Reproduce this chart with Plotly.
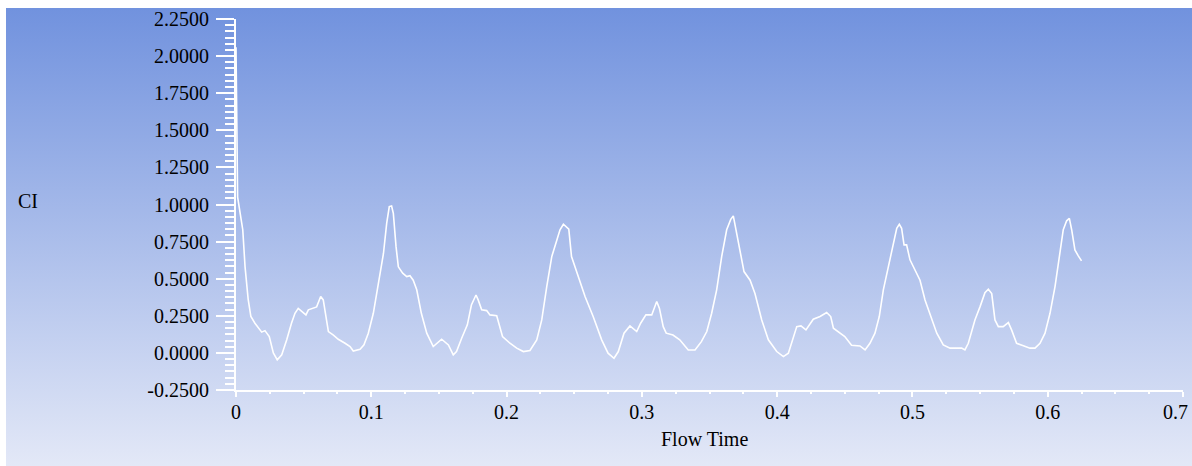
import base64
import plotly.graph_objects as go

# ---- data ----
flow_time = [
    0.0, 0.0012, 0.005, 0.0067, 0.009, 0.011, 0.014, 0.019, 0.0214, 0.0246,
    0.0276, 0.0305, 0.0338, 0.0375, 0.041, 0.0436, 0.046, 0.049, 0.0517, 0.0535,
    0.056, 0.0596, 0.0626, 0.0645, 0.0665, 0.0683, 0.072, 0.0756, 0.0806, 0.0843,
    0.0867, 0.0917, 0.0946, 0.0978, 0.1015, 0.105, 0.109, 0.1114, 0.1133, 0.115,
    0.1163, 0.1183, 0.120, 0.1232, 0.1262, 0.1286, 0.131, 0.1336, 0.137, 0.141,
    0.1458, 0.152, 0.157, 0.1606, 0.163, 0.1668, 0.171, 0.174, 0.1774, 0.179,
    0.1816, 0.1853, 0.1877, 0.1927, 0.197, 0.2025, 0.2075, 0.2124, 0.2173, 0.2223,
    0.226, 0.2297, 0.2334, 0.2365, 0.2395, 0.242, 0.246, 0.248, 0.253, 0.258,
    0.264, 0.2703, 0.275, 0.2794, 0.2826, 0.2868, 0.2912, 0.2962, 0.2991, 0.303,
    0.3073, 0.311, 0.313, 0.3158, 0.318, 0.323, 0.328, 0.3343, 0.3393, 0.344,
    0.348, 0.3516, 0.3553, 0.359, 0.3627, 0.3657, 0.3676, 0.370, 0.3725, 0.3755,
    0.380, 0.3836, 0.3886, 0.3935, 0.3997, 0.4046, 0.4083, 0.412, 0.4145, 0.4176,
    0.4213, 0.4267, 0.4317, 0.4366, 0.4396, 0.4416, 0.4465, 0.450, 0.455, 0.4612,
    0.465, 0.4686, 0.4723, 0.4755, 0.4785, 0.482, 0.4854, 0.4884, 0.4903, 0.492,
    0.4938, 0.4957, 0.4982, 0.5019, 0.5056, 0.5093, 0.5142, 0.518, 0.5228, 0.5278,
    0.5364, 0.5388, 0.5413, 0.5462, 0.550, 0.5536, 0.5561, 0.5586, 0.561, 0.5635,
    0.5671, 0.5709, 0.5733, 0.577, 0.582, 0.5869, 0.5906, 0.5943, 0.598, 0.6017,
    0.6054, 0.609, 0.6115, 0.614, 0.616, 0.6177, 0.6201, 0.6226, 0.625,
]
ci_values = [
    2.06, 1.05, 0.83, 0.58, 0.36, 0.245, 0.20, 0.14, 0.15, 0.11,
    0.00, -0.047, -0.013, 0.088, 0.20, 0.267, 0.30, 0.278, 0.256, 0.29,
    0.30, 0.31, 0.38, 0.357, 0.245, 0.144, 0.12, 0.092, 0.065, 0.043,
    0.013, 0.025, 0.054, 0.133, 0.267, 0.447, 0.67, 0.874, 0.986, 0.99,
    0.94, 0.716, 0.58, 0.537, 0.514, 0.52, 0.49, 0.425, 0.267, 0.133,
    0.043, 0.092, 0.054, -0.013, 0.009, 0.099, 0.189, 0.323, 0.39, 0.357,
    0.29, 0.285, 0.256, 0.25, 0.11, 0.065, 0.032, 0.009, 0.016, 0.088,
    0.222, 0.447, 0.649, 0.74, 0.83, 0.867, 0.834, 0.649, 0.514, 0.38,
    0.245, 0.088, -0.002, -0.036, 0.009, 0.133, 0.182, 0.144, 0.20, 0.256,
    0.256, 0.346, 0.30, 0.177, 0.133, 0.12, 0.088, 0.02, 0.02, 0.076,
    0.144, 0.267, 0.425, 0.649, 0.83, 0.90, 0.923, 0.807, 0.67, 0.548,
    0.49, 0.40, 0.222, 0.088, 0.009, -0.025, -0.002, 0.11, 0.177, 0.182,
    0.155, 0.227, 0.245, 0.272, 0.245, 0.166, 0.13, 0.11, 0.052, 0.047,
    0.02, 0.065, 0.133, 0.245, 0.425, 0.58, 0.716, 0.84, 0.867, 0.84,
    0.728, 0.728, 0.627, 0.56, 0.49, 0.357, 0.222, 0.133, 0.054, 0.032,
    0.032, 0.02, 0.065, 0.222, 0.312, 0.406, 0.429, 0.40, 0.222, 0.177,
    0.177, 0.204, 0.155, 0.065, 0.049, 0.032, 0.032, 0.065, 0.133, 0.267,
    0.447, 0.67, 0.83, 0.89, 0.907, 0.83, 0.694, 0.654, 0.62,
]

x_tick_vals = [0, 0.1, 0.2, 0.3, 0.4, 0.5, 0.6, 0.7]
x_tick_text = ["0", "0.1", "0.2", "0.3", "0.4", "0.5", "0.6", "0.7"]
y_tick_vals = [-0.25, 0.0, 0.25, 0.5, 0.75, 1.0, 1.25, 1.5, 1.75, 2.0, 2.25]
y_tick_text = ["-0.2500", "0.0000", "0.2500", "0.5000", "0.7500", "1.0000",
               "1.2500", "1.5000", "1.7500", "2.0000", "2.2500"]

x_title = "Flow Time"
y_title = "CI"

# ---- layout geometry ----
W, H = 1192, 466
ML, MR, MT, MB = 236, 9, 19, 76
PW, PH = W - ML - MR, H - MT - MB
FONT = "Liberation Serif"


def px_to_paper_x(px):
    return (px - ML) / PW


def px_to_paper_y(py):
    return (H - MB - py) / PH


# the last x label is drawn as an annotation, nudged left so it fits the page
x_tick_display = x_tick_text[:-1] + [""]

# gradient background as an SVG data URI
svg = (
    '<svg xmlns="http://www.w3.org/2000/svg" width="100" height="100" preserveAspectRatio="none">'
    '<defs><linearGradient id="g" x1="0" y1="0" x2="0" y2="1">'
    '<stop offset="0" stop-color="#7192DE"/>'
    '<stop offset="1" stop-color="#E3E8F7"/>'
    '</linearGradient></defs>'
    '<rect width="100" height="100" fill="url(#g)"/></svg>'
)
svg_uri = "data:image/svg+xml;base64," + base64.b64encode(svg.encode()).decode()

bg_x0, bg_y0, bg_x1, bg_y1 = 6, 8, W, H

fig = go.Figure()
fig.add_trace(go.Scatter(
    x=flow_time, y=ci_values, mode="lines",
    line=dict(color="white", width=1.6),
    hoverinfo="x+y", showlegend=False,
))

axis_font = dict(family=FONT, size=20, color="black")

fig.update_layout(
    width=W, height=H,
    margin=dict(l=ML, r=MR, t=MT, b=MB, pad=0, autoexpand=False),
    paper_bgcolor="white",
    plot_bgcolor="rgba(0,0,0,0)",
    font=axis_font,
    images=[dict(
        source=svg_uri, xref="paper", yref="paper",
        x=px_to_paper_x(bg_x0), y=px_to_paper_y(bg_y0),
        sizex=px_to_paper_x(bg_x1) - px_to_paper_x(bg_x0),
        sizey=px_to_paper_y(bg_y0) - px_to_paper_y(bg_y1),
        xanchor="left", yanchor="top", sizing="stretch", layer="below",
    )],
    xaxis=dict(
        range=[0, 0.7], tickvals=x_tick_vals, ticktext=x_tick_display,
        showgrid=False, zeroline=False, automargin=False,
        showline=True, linecolor="white", linewidth=2,
        ticks="outside", ticklen=5, tickwidth=2, tickcolor="white",
        tickfont=axis_font, ticklabeloverflow="allow", ticklabelstandoff=-2,
        minor=dict(dtick=0.025, tick0=0, ticks="outside", ticklen=2,
                   tickwidth=1.5, tickcolor="white", showgrid=False),
    ),
    yaxis=dict(
        range=[-0.25, 2.25], tickvals=y_tick_vals, ticktext=y_tick_text,
        showgrid=False, zeroline=False, automargin=False,
        showline=True, linecolor="white", linewidth=2,
        ticks="outside", ticklen=18, tickwidth=2, tickcolor="white",
        tickfont=axis_font, ticklabelstandoff=3, ticklabeloverflow="allow",
        minor=dict(dtick=0.25 / 6, tick0=-0.25, ticks="outside", ticklen=9,
                   tickwidth=1.5, tickcolor="white", showgrid=False),
    ),
    annotations=[
        dict(text=y_title, xref="paper", yref="paper",
             x=px_to_paper_x(27.5), y=px_to_paper_y(201),
             xanchor="center", yanchor="middle", showarrow=False, font=axis_font),
        dict(text=x_title, xref="paper", yref="paper",
             x=px_to_paper_x(704.5), y=px_to_paper_y(439),
             xanchor="center", yanchor="middle", showarrow=False, font=axis_font),
        dict(text=x_tick_text[-1], xref="paper", yref="paper",
             x=px_to_paper_x(1190), y=px_to_paper_y(412),
             xanchor="right", yanchor="middle", showarrow=False, font=axis_font),
    ],
)

fig.write_html("out.html")
